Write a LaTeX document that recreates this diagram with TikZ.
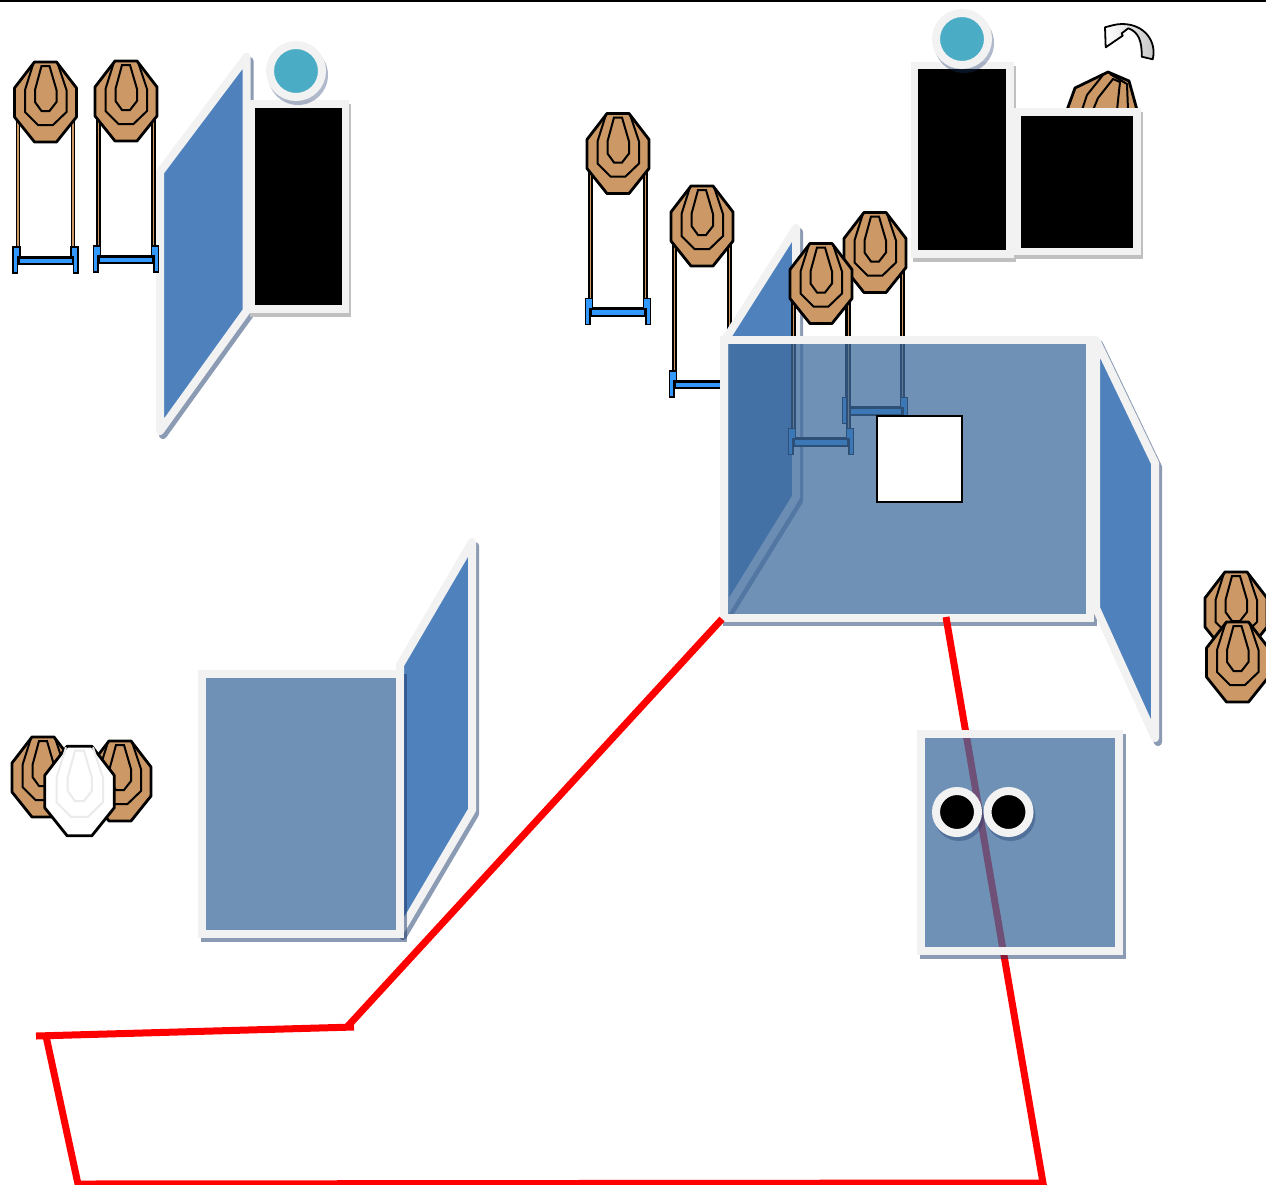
\documentclass[tikz,border=0pt]{standalone}
\usepackage{xcolor}
\definecolor{wallblue}{RGB}{79,129,189}
\definecolor{panelblue}{RGB}{64,108,158}
\definecolor{framegray}{RGB}{242,242,242}
\definecolor{shadowblue}{RGB}{25,55,105}
\definecolor{shadegray}{RGB}{192,192,192}
\definecolor{discteal}{RGB}{75,172,198}
\definecolor{targettan}{RGB}{204,153,102}
\definecolor{footblue}{RGB}{51,153,255}
\definecolor{ringgray}{RGB}{235,235,235}
\definecolor{arrowgray}{RGB}{195,195,195}
\usetikzlibrary{calc}
\tikzset{
  frameline/.style={draw=framegray,line width=8pt,line join=miter},
  shadowline/.style={draw=shadowblue,opacity=.5,line width=8pt,line join=miter,line cap=rect},
  wallface/.style={draw=framegray,line width=8pt,line join=round,fill=wallblue},
  wallshadow/.style={draw=shadowblue,opacity=.5,line width=8pt,line join=round},
  blackbox/.style={draw=framegray,line width=7.5pt,fill=black},
  boxshadow/.style={draw=shadegray,fill=shadegray,line width=7.5pt},
  discshadow/.style={fill=shadowblue,opacity=.35},
  redline/.style={draw=red,line width=7pt},
  sheetface/.style={fill=targettan},
  ringline/.style={draw=black},
  target/.pic={
    \path[draw=black,line width=2.8pt,line join=round,sheetface] (-11,-40) -- (11,-40) -- (31,-14) -- (31,15)
      -- (11,40) -- (-11,40) -- (-31,15) -- (-31,-14) -- cycle;
    \draw[ringline,line width=2pt] (-12,-39) -- (-20.5,-12) -- (-20.5,10) -- (-7.5,23) -- (7.5,23)
      -- (21,10) -- (21,-12) -- (12,-39);
    \draw[ringline,line width=2pt] (-4,-36) -- (4,-36) -- (11,-12) -- (11,0) -- (4,9) -- (-4,9)
      -- (-10.5,0) -- (-10.5,-12) -- cycle;
  },
  standtarget/.pic={
    \foreach \s in {-1,1}{
      \draw[black,line width=4.6pt] (\s*27.5,10) -- (\s*27.5,146);
      \draw[targettan,line width=1.6pt] (\s*27.5,10) -- (\s*27.5,146);
    }
    \draw[black,fill=footblue,line width=2pt] (-27,155) rectangle (27,162);
    \draw[black,line width=3pt] (-27,155) -- (27,155);
    \foreach \s in {-1,1}{
      \draw[black,fill=footblue,line width=1.6pt] (\s*32.5,145) -- (\s*25.5,145) -- (\s*25.5,155)
        -- (\s*28,155) -- (\s*28,171) -- (\s*32.5,171) -- cycle;
    }
    \pic {target};
  }
}
\newcommand{\frontpanel}[4]{%
  \draw[shadowline] (#3+3,#2+4) -- (#3+3,#4+4) -- (#1+3,#4+4);
  \fill[panelblue,opacity=.75] (#1,#2) rectangle (#3,#4);
  \draw[frameline] (#1,#2) rectangle (#3,#4);
}
\newcommand{\sidewall}[4]{%
  \draw[wallshadow,shift={(3,4)}] #1 -- #2 -- #3 -- #4 -- cycle;
  \draw[wallface] #1 -- #2 -- #3 -- #4 -- cycle;
}
\newcommand{\blackpanel}[4]{%
  \draw[boxshadow] (#1+2,#2+4) rectangle (#3+2,#4+4);
  \draw[blackbox] (#1,#2) rectangle (#3,#4);
}
\newcommand{\ringdisc}[4]{%
  \fill[discshadow] (#1+2,#2+4) circle [radius=#3];
  \draw[draw=framegray,line width=8pt,fill=#4] (#1,#2) circle [radius=#3-4];
}

\begin{document}
\begin{tikzpicture}[x=1pt,y=-1pt]
  \clip (0,0) rectangle (1266,1184);
  \draw[black,line width=2pt] (0,0.5) -- (1266,0.5);
  % Left group
  \sidewall{(160,172)}{(246.5,57)}{(246.5,311)}{(160,431)}
  \pic at (45.5,102) {standtarget};
  \pic at (126,101) {standtarget};
  \blackpanel{251.5}{104}{345.5}{309}
  \ringdisc{296}{71}{30}{discteal}
  % Back group
  \pic at (618,153.5) {standtarget};
  \pic at (702,226) {standtarget};
  \sidewall{(725,340)}{(796,228)}{(796,497)}{(725,612)}
  \pic at (875,252.5) {standtarget};
  \pic at (821,283.5) {standtarget};
  \blackpanel{914.5}{65.5}{1010}{254}
  \ringdisc{962}{39}{30}{discteal}
  % Target behind the box, only its top shows
  \path[draw=black,line width=2.8pt,line join=round,fill=targettan] (1067,110) -- (1075,88) -- (1108,72)
    -- (1129,81) -- (1137,110) -- cycle;
  \draw[black,line width=2pt] (1082,110) -- (1087,95) -- (1103,75);
  \draw[black,line width=2pt] (1093,110) -- (1098,98) -- (1113,79) -- (1120,82) -- (1117,110);
  \draw[black,line width=2pt] (1110,74) -- (1127,84) -- (1128,110);
  \blackpanel{1017}{112}{1137}{251.5}
  % Undo arrow
  \draw[black,line width=1.8pt,line join=round,left color=white,middle color=white,right color=arrowgray]
    (1105,27.3) -- (1105.7,47.3) -- (1122.7,35.7) -- (1121.7,33.3) -- (1128.3,28.3)
    .. controls (1139,32) and (1142,42) .. (1141.7,56.7) -- (1152.7,59.3)
    .. controls (1157,42) and (1145,24) .. (1122,24) .. controls (1116,24) and (1110,26) .. (1105,27.3) -- cycle;
  % Large room
  \frontpanel{723.5}{340}{1090}{617.5}
  \draw[black,fill=white,line width=2pt] (877,416) rectangle (962,502);
  \sidewall{(1096,340)}{(1155,463)}{(1155,738)}{(1096,608)}
  % Targets on the right
  \pic at (1236,612) {target};
  \pic at (1237.5,662) {target};
  % Lower left group
  \pic at (43,777) {target};
  \pic at (120,781) {target};
  \begin{scope}[sheetface/.style={fill=white},ringline/.style={draw=ringgray}]
    \pic[scale=1.12] at (79.5,791) {target};
  \end{scope}
  \sidewall{(400,665)}{(472,542)}{(472,810)}{(400,932)}
  \frontpanel{201.5}{674}{400}{934}
  % Red path
  \draw[redline] (722,619) -- (347,1027);
  \draw[redline] (354,1027) -- (36,1036);
  \draw[redline] (46,1036) -- (78,1184) -- (1043,1183) -- (946,617);
  % Small room with two discs
  \frontpanel{921}{734}{1118.5}{950.5}
  \ringdisc{957}{812}{25}{black}
  \ringdisc{1008.5}{812}{25}{black}
\end{tikzpicture}
\end{document}
